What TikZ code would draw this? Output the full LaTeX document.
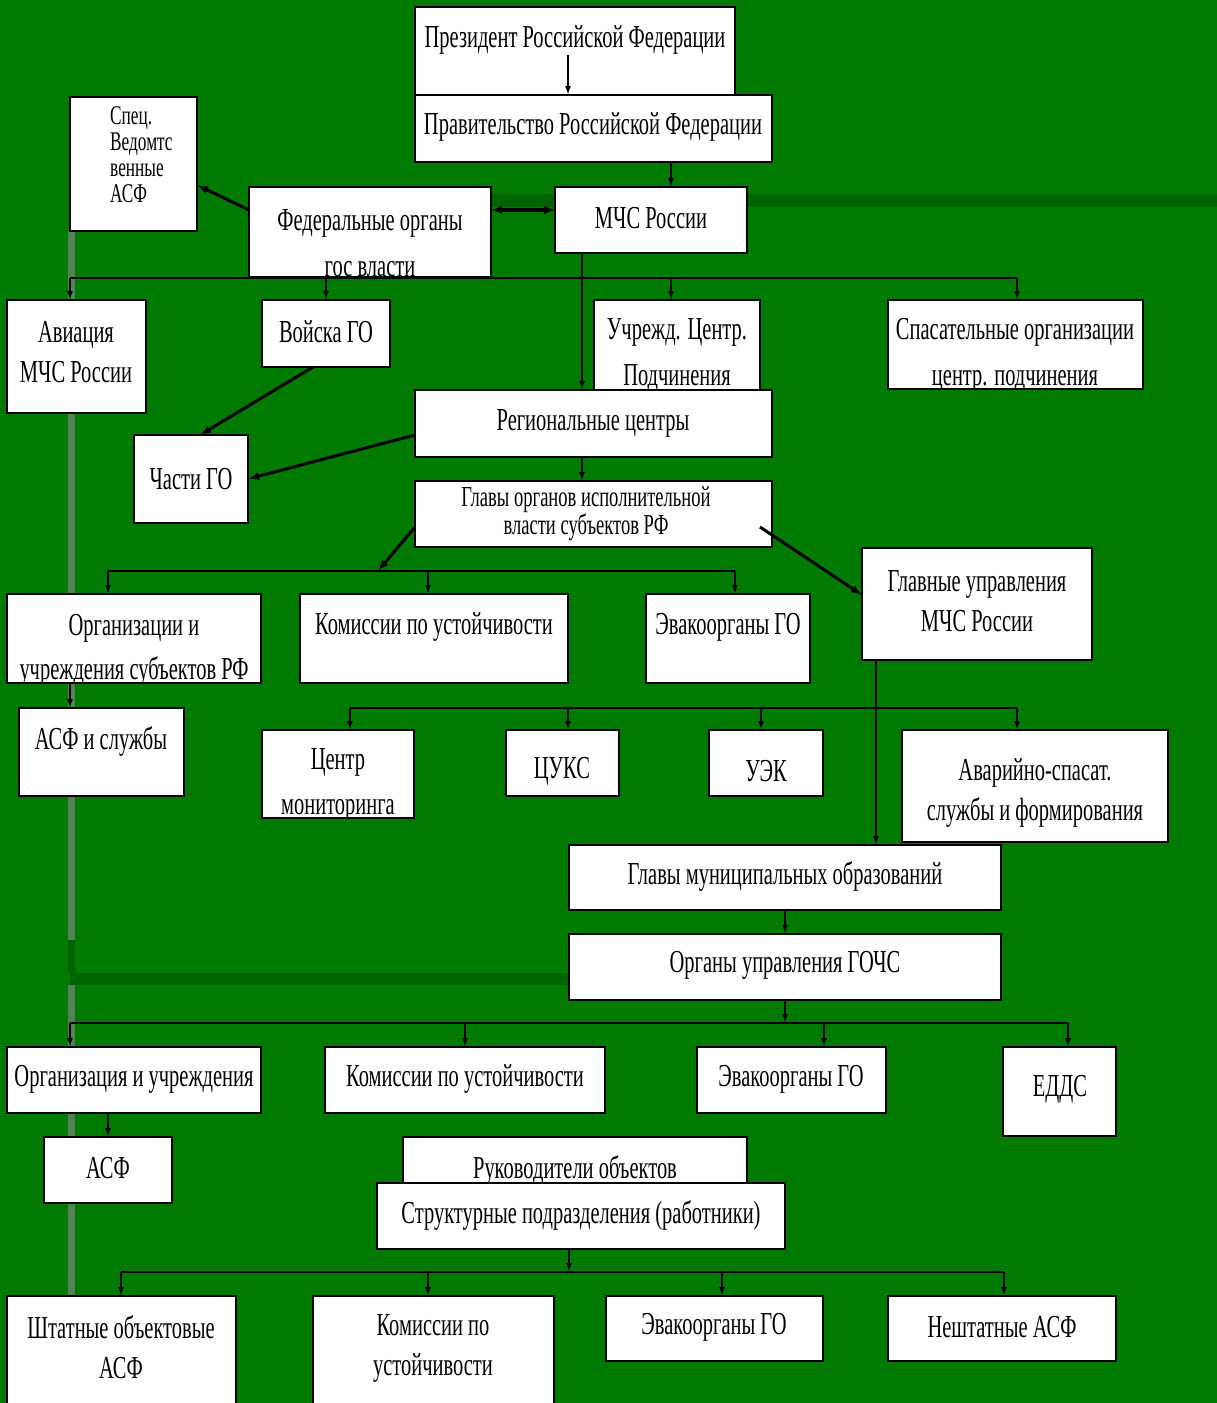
\documentclass[tikz,border=0pt]{standalone}
\usepackage{fontspec}
\setmainfont{Liberation Serif}[FakeStretch=0.64]
\usetikzlibrary{arrows.meta}
\definecolor{slidegreen}{RGB}{0,122,0}
\definecolor{stripegreen}{RGB}{0,100,0}
\definecolor{railgrey}{RGB}{86,128,86}

\begin{document}
\begin{tikzpicture}[x=1pt,y=-1pt,
  box/.style={draw=black, fill=white, line width=1.4pt, inner sep=0pt, outer sep=0pt},
  txt/.style={font=\fontsize{32}{40}\selectfont, align=center, inner sep=0pt},
  smalltxt/.style={font=\fontsize{27}{26}\selectfont, inner sep=0pt},
  bus/.style={line width=2pt},
  arr/.style={line width=1.8pt, -{Latex[length=9pt,width=6pt]}},
  thk/.style={line width=3pt, -{Latex[length=11pt,width=8pt]}},
  dbl/.style={line width=3.5pt, {Latex[length=11pt,width=9pt]}-{Latex[length=11pt,width=9pt]}}]
\useasboundingbox (0,0) rectangle (1217,1403);
\fill[slidegreen] (0,0) rectangle (1217,1403);
% slide template
\fill[stripegreen] (491,194) rectangle (1217,207);
\fill[stripegreen] (70,973) rectangle (570,985);
\fill[railgrey] (68,231) rectangle (75,940);
\fill[stripegreen] (68,940) rectangle (75,973);
\fill[railgrey] (68,985) rectangle (75,1296);

% federal level
\node[box, minimum width=320pt, minimum height=88pt] (pres) at (575,51) {};
\node[txt] (presT) at (575,40) {Президент Российской Федерации};
\node[box, minimum width=357pt, minimum height=67pt] (gov) at (593.5,128.5) {};
\node[txt] (govT) at (593,127) {Правительство Российской Федерации};
\node[box, minimum width=127pt, minimum height=134pt] (spec) at (133.5,164) {};
\node[smalltxt, align=left, anchor=west] (specT) at (110,155) {Спец.\\ Ведомтс\\ венные\\ АСФ};
\node[box, minimum width=242pt, minimum height=90pt] (fed) at (370,232) {};
\begin{scope}
\clip (fed.south west) rectangle (fed.north east);
\node[txt, font=\fontsize{32}{46}\selectfont] (fedT) at (370,243) {Федеральные органы\\гос власти};
\end{scope}
\node[box, minimum width=192pt, minimum height=66pt] (mchs) at (651,220) {};
\node[txt] (mchsT) at (651,218) {МЧС России};

\node[box, minimum width=139pt, minimum height=113pt] (avia) at (76.5,356.5) {};
\node[txt] (aviaT) at (76,352) {Авиация\\МЧС России};
\node[box, minimum width=128pt, minimum height=67pt] (voiska) at (326,333.5) {};
\node[txt] (voiskaT) at (326,332) {Войска ГО};
\node[box, minimum width=166pt, minimum height=100pt] (uchr) at (677,350) {};
\node[txt, font=\fontsize{32}{46}\selectfont] (uchrT) at (677,355) {Учрежд. Центр.\\Подчинения};
\node[box, minimum width=255pt, minimum height=89pt] (spas) at (1015.5,344.5) {};
\begin{scope}
\clip (spas.south west) rectangle (spas.north east);
\node[txt, font=\fontsize{32}{46}\selectfont] (spasT) at (1015,355) {Спасательные организации\\центр. подчинения};
\end{scope}

% regional level
\node[box, minimum width=357pt, minimum height=67pt] (reg) at (593.5,423.5) {};
\node[txt] (regT) at (593,423) {Региональные центры};
\node[box, minimum width=114pt, minimum height=88pt] (chasti) at (191,479) {};
\node[txt] (chastiT) at (191,479) {Части ГО};
\node[box, minimum width=357pt, minimum height=66pt] (glavy) at (593.5,514) {};
\node[smalltxt, align=center, font=\fontsize{29}{26}\selectfont] (glavyT) at (586,514) {Главы органов исполнительной\\власти субъектов РФ};
\node[box, minimum width=230pt, minimum height=112pt] (glupr) at (977,604) {};
\node[txt] (gluprT) at (977,601) {Главные управления\\МЧС России};

\node[box, minimum width=254pt, minimum height=89pt] (org) at (134,638.5) {};
\begin{scope}
\clip (org.south west) rectangle (org.north east);
\node[txt, font=\fontsize{32}{44}\selectfont] (orgT) at (134,650) {Организации и\\учреждения субъектов РФ};
\end{scope}
\node[box, minimum width=268pt, minimum height=89pt] (kom1) at (434,638.5) {};
\node[txt] (kom1T) at (434,627) {Комиссии по устойчивости};
\node[box, minimum width=164pt, minimum height=89pt] (evak1) at (728,638.5) {};
\node[txt] (evak1T) at (728,627) {Эвакоорганы ГО};
\node[box, minimum width=165pt, minimum height=88pt] (asfs) at (101.5,752) {};
\node[txt] (asfsT) at (101,741) {АСФ и службы};

\node[box, minimum width=152pt, minimum height=88pt] (centr) at (338,774) {};
\begin{scope}
\clip (centr.south west) rectangle (centr.north east);
\node[txt, font=\fontsize{32}{45}\selectfont] (centrT) at (338,785) {Центр\\мониторинга};
\end{scope}
\node[box, minimum width=113pt, minimum height=66pt] (cuks) at (562.5,763) {};
\node[txt] (cuksT) at (562,771) {ЦУКС};
\node[box, minimum width=114pt, minimum height=66pt] (uek) at (766,763) {};
\node[txt] (uekT) at (766,771) {УЭК};
\node[box, minimum width=266pt, minimum height=112pt] (avar) at (1035,786) {};
\node[txt] (avarT) at (1035,793) {Аварийно-спасат.\\службы и формирования};

% municipal level
\node[box, minimum width=432pt, minimum height=65pt] (mun) at (785,877.5) {};
\node[txt] (munT) at (785,876) {Главы муниципальных образований};
\node[box, minimum width=432pt, minimum height=66pt] (gochs) at (785,967) {};
\node[txt] (gochsT) at (785,965) {Органы управления ГОЧС};

\node[box, minimum width=254pt, minimum height=66pt] (org2) at (134,1080) {};
\node[txt] (org2T) at (134,1079) {Организация и учреждения};
\node[box, minimum width=280pt, minimum height=66pt] (kom2) at (465,1080) {};
\node[txt] (kom2T) at (465,1079) {Комиссии по устойчивости};
\node[box, minimum width=189pt, minimum height=66pt] (evak2) at (791.5,1080) {};
\node[txt] (evak2T) at (791,1079) {Эвакоорганы ГО};
\node[box, minimum width=113pt, minimum height=89pt] (edds) at (1059.5,1091.5) {};
\node[txt] (eddsT) at (1060,1089) {ЕДДС};
\node[box, minimum width=128pt, minimum height=66pt] (asf) at (108,1170) {};
\node[txt] (asfT) at (108,1168) {АСФ};

% object level
\node[box, minimum width=344pt, minimum height=63pt] (ruk) at (575,1168.5) {};
\node[txt] (rukT) at (575,1170) {Руководители объектов};
\node[box, minimum width=408pt, minimum height=66pt] (strukt) at (581,1216) {};
\node[txt] (struktT) at (581,1215) {Структурные подразделения (работники)};

\node[box, minimum width=229pt, minimum height=124pt] (shtat) at (121.5,1358) {};
\node[txt] (shtatT) at (121,1347) {Штатные объектовые\\АСФ};
\node[box, minimum width=241pt, minimum height=124pt] (kom3) at (433.5,1358) {};
\node[txt] (kom3T) at (433,1348) {Комиссии по\\устойчивости};
\node[box, minimum width=217pt, minimum height=65pt] (evak3) at (714.5,1328.5) {};
\node[txt] (evak3T) at (714,1327) {Эвакоорганы ГО};
\node[box, minimum width=228pt, minimum height=65pt] (neshtat) at (1002,1328.5) {};
\node[txt] (neshtatT) at (1002,1327) {Нештатные АСФ};

% connectors, top part
\coordinate (p1) at (568,55);
\coordinate (g1) at (671,162);
\coordinate (f1) at (491,210);
\coordinate (m2) at (582,253);
\draw[arr] (p1) -- (p1 |- gov.north);
\draw[arr] (g1) -- (g1 |- mchs.north);
\draw[dbl] (f1) -- (f1 -| mchs.west);
\draw[thk] ([yshift=22pt]fed.west) -- ([yshift=-21pt]spec.east);

\coordinate (b1L) at (70,278);
\coordinate (b1R) at (1017,278);
\draw[bus] (b1L) -- (b1R);
\draw[arr] (b1L) -- (b1L |- avia.north);
\draw[arr] (voiska.north |- b1L) -- (voiska.north);
\draw[arr] (g1 |- b1L) -- (g1 |- uchr.north);
\draw[arr] (b1R) -- (b1R |- spas.north);

\draw[arr] (m2) -- (m2 |- reg.north);
\draw[thk] ([xshift=-13pt]voiska.south) -- ([xshift=9pt]chasti.north);
\draw[thk] ([yshift=-11.5pt]reg.west) -- (chasti.east);
\draw[arr] (m2 |- reg.south) -- (m2 |- glavy.north);

% regional level
\coordinate (b2L) at (108,571);
\coordinate (b2m) at (428,571);
\coordinate (b2in) at (378,571);
\coordinate (b2R) at (735,571);
\draw[bus] (b2L) -- (b2R);
\draw[thk] ([yshift=-13pt]glavy.west) -- (b2in);
\draw[thk] ([xshift=-12pt,yshift=-13pt]glavy.east) -- ([yshift=9pt]glupr.west);
\draw[arr] (b2L) -- (b2L |- org.north);
\draw[arr] (b2m) -- (b2m |- kom1.north);
\draw[arr] (b2R) -- (b2R |- evak1.north);
\draw[arr] (b1L |- org.south) -- (b1L |- asfs.north);

\coordinate (u1) at (876,660);
\coordinate (b3L) at (350,708);
\coordinate (b3a) at (568,708);
\coordinate (b3b) at (761,708);
\coordinate (b3R) at (1017,708);
\draw[bus] (b3L) -- (b3R);
\draw[arr] (u1) -- (u1 |- mun.north);
\draw[arr] (b3L) -- (b3L |- centr.north);
\draw[arr] (b3a) -- (b3a |- cuks.north);
\draw[arr] (b3b) -- (b3b |- uek.north);
\draw[arr] (b3R) -- (b3R |- avar.north);

% municipal level
\coordinate (b4L) at (70,1023);
\coordinate (b4a) at (824,1023);
\coordinate (b4R) at (1068,1023);
\draw[arr] (mun.south) -- (gochs.north);
\draw[bus] (b4L) -- (b4R);
\draw[arr] (gochs.south) -- (gochs.south |- b4L);
\draw[arr] (b4L) -- (b4L |- org2.north);
\draw[arr] (kom2.north |- b4L) -- (kom2.north);
\draw[arr] (b4a) -- (b4a |- evak2.north);
\draw[arr] (b4R) -- (b4R |- edds.north);
\draw[arr] (asf.north |- org2.south) -- (asf.north);

% object level
\coordinate (s1) at (569,1249);
\coordinate (b5L) at (121,1272);
\coordinate (b5a) at (428,1272);
\coordinate (b5b) at (722,1272);
\coordinate (b5R) at (1004,1272);
\draw[bus] (b5L) -- (b5R);
\draw[arr] (s1) -- (s1 |- b5L);
\draw[arr] (b5L) -- (b5L |- shtat.north);
\draw[arr] (b5a) -- (b5a |- kom3.north);
\draw[arr] (b5b) -- (b5b |- evak3.north);
\draw[arr] (b5R) -- (b5R |- neshtat.north);
\end{tikzpicture}
\end{document}
